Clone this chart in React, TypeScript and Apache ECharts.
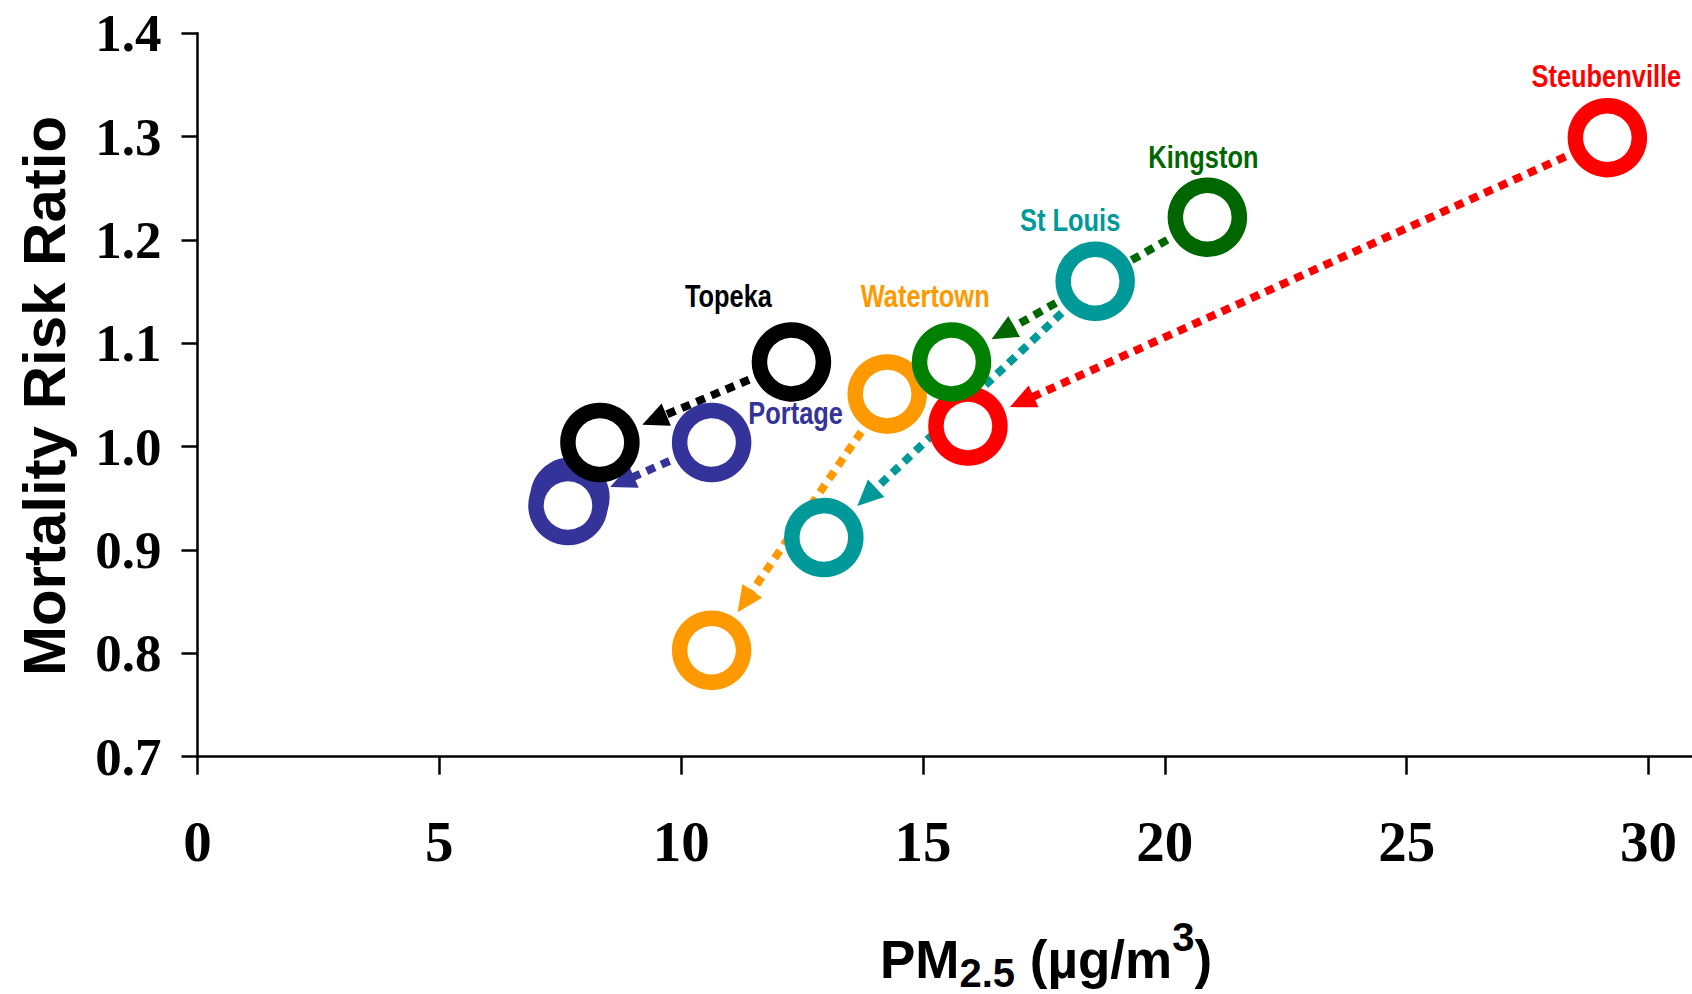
import React, { useEffect, useRef } from "react";
import * as echarts from "echarts";

// ---- data ----
const cities = ["Topeka", "Portage", "Watertown", "St Louis", "Kingston", "Steubenville"];
// first (earlier) PM2.5 / risk ratio
const pmStart = [12.28, 10.63, 14.26, 18.56, 20.88, 29.15];
const rrStart = [1.082, 1.004, 1.051, 1.16, 1.222, 1.299];
// later PM2.5 / risk ratio
const pmEnd = [8.32, 7.66, 10.63, 12.95, 15.59, 15.93];
const rrEnd = [1.004, 0.943, 0.803, 0.912, 1.082, 1.02];
// partly hidden extra Portage marker
const portageExtraPm = [7.7];
const portageExtraRr = [0.951];

const xTicks = [0, 5, 10, 15, 20, 25, 30];
const yTicks = [0.7, 0.8, 0.9, 1.0, 1.1, 1.2, 1.3, 1.4];

// ---- styles ----
const startColors = ["#000000", "#333399", "#FF9900", "#009999", "#006600", "#FF0000"];
const endColors = ["#000000", "#333399", "#FF9900", "#009999", "#008000", "#FF0000"];
const arrowColors = ["#000000", "#333399", "#FF9900", "#009999", "#006600", "#FF0000"];
const labelColors = ["#000000", "#333399", "#FF9900", "#009999", "#006600", "#FF0000"];
const labelOffsets = [
  [-63, -66],
  [84, -29],
  [38, -98],
  [-25, -61],
  [-4, -60],
  [-1, -62],
];
const drawOrder = [1, 0, 2, 3, 5, 4];
const SANS = "'Liberation Sans', Arial, sans-serif";
const SERIF = "'Liberation Serif', 'Times New Roman', serif";

export default function App() {
  const ref = useRef<HTMLDivElement>(null);

  useEffect(() => {
    if (!ref.current) return;
    const chart = echarts.init(ref.current, null, { renderer: "svg" });

    const GAP = 46;
    const HEAD = 26;
    const HALF = 12;

    const arrowSeries: any = {
      type: "custom",
      coordinateSystem: "cartesian2d",
      z: 1,
      silent: true,
      clip: false,
      data: cities.map((_, i) => [pmStart[i], rrStart[i], pmEnd[i], rrEnd[i], i]),
      encode: { x: [0, 2], y: [1, 3] },
      renderItem: (_params: any, api: any) => {
        const i = api.value(4);
        const p1 = api.coord([api.value(0), api.value(1)]);
        const p2 = api.coord([api.value(2), api.value(3)]);
        const dx = p2[0] - p1[0];
        const dy = p2[1] - p1[1];
        const len = Math.hypot(dx, dy);
        const ux = dx / len;
        const uy = dy / len;
        const tip = [p2[0] - ux * GAP, p2[1] - uy * GAP];
        const base = [tip[0] - ux * HEAD, tip[1] - uy * HEAD];
        const nx = -uy;
        const ny = ux;
        const c = arrowColors[i];
        return {
          type: "group",
          children: [
            {
              type: "line",
              shape: {
                x1: p1[0] + ux * 30,
                y1: p1[1] + uy * 30,
                x2: base[0] + ux * 2,
                y2: base[1] + uy * 2,
              },
              style: { stroke: c, lineWidth: 8, lineDash: [9, 7], lineCap: "butt" },
            },
            {
              type: "polygon",
              shape: {
                points: [
                  tip,
                  [base[0] + nx * HALF, base[1] + ny * HALF],
                  [base[0] - nx * HALF, base[1] - ny * HALF],
                ],
              },
              style: { fill: c },
            },
          ],
        };
      },
    };

    const labelSeries: any = {
      type: "custom",
      coordinateSystem: "cartesian2d",
      z: 3,
      silent: true,
      clip: false,
      data: cities.map((_, i) => [pmStart[i], rrStart[i], i]),
      encode: { x: 0, y: 1 },
      renderItem: (_params: any, api: any) => {
        const i = api.value(2);
        const p = api.coord([api.value(0), api.value(1)]);
        return {
          type: "text",
          x: p[0] + labelOffsets[i][0],
          y: p[1] + labelOffsets[i][1],
          scaleX: 0.82,
          style: {
            text: cities[i],
            fill: labelColors[i],
            fontSize: 31,
            fontWeight: "bold",
            fontFamily: SANS,
            align: "center",
            verticalAlign: "middle",
          },
        };
      },
    };

    const markerSeries = drawOrder.map((i) => {
      const data: any[] = [
        { value: [pmStart[i], rrStart[i]], itemStyle: { borderColor: startColors[i] } },
      ];
      if (i === 1) {
        portageExtraPm.forEach((x, k) => {
          data.push({ value: [x, portageExtraRr[k]], itemStyle: { borderColor: endColors[i] } });
        });
      }
      data.push({ value: [pmEnd[i], rrEnd[i]], itemStyle: { borderColor: endColors[i] } });
      return {
        type: "scatter",
        name: cities[i],
        z: 2,
        symbol: "circle",
        symbolSize: 64,
        itemStyle: { color: "#ffffff", borderWidth: 15.5, opacity: 1 },
        label: { show: false },
        emphasis: { disabled: true },
        data,
      };
    });

    chart.setOption({
      animation: false,
      backgroundColor: "#ffffff",
      grid: { left: 197.5, top: 33.3, right: 0, bottom: 237.3, containLabel: false },
      xAxis: {
        type: "value",
        min: 0,
        max: 30.9,
        interval: 5,
        axisLine: { show: true, onZero: false, lineStyle: { color: "#000", width: 2.5 } },
        axisTick: { show: true, length: 18, lineStyle: { color: "#000", width: 2.5 }, customValues: xTicks },
        axisLabel: {
          customValues: xTicks,
          margin: 56,
          fontFamily: SERIF,
          fontWeight: "bold",
          fontSize: 57,
          color: "#000",
        },
        splitLine: { show: false },
      },
      yAxis: {
        type: "value",
        min: 0.7,
        max: 1.4,
        interval: 0.1,
        axisLine: { show: true, onZero: false, lineStyle: { color: "#000", width: 2.5 } },
        axisTick: { show: true, length: 16, lineStyle: { color: "#000", width: 2.5 }, customValues: yTicks },
        axisLabel: {
          customValues: yTicks,
          margin: 36,
          fontFamily: SERIF,
          fontWeight: "bold",
          fontSize: 53,
          color: "#000",
          formatter: (v: number) => v.toFixed(1),
        },
        splitLine: { show: false },
      },
      graphic: [
        {
          type: "text",
          x: 44,
          y: 396,
          rotation: Math.PI / 2,
          style: {
            text: "Mortality Risk Ratio",
            fontFamily: SANS,
            fontWeight: "bold",
            fontSize: 60,
            fill: "#000",
            align: "center",
            verticalAlign: "middle",
          },
        },
        {
          type: "text",
          x: 1046,
          y: 959,
          style: {
            text: "PM{sub|2.5} (µg/m{sup|3})",
            fontFamily: SANS,
            fontWeight: "bold",
            fontSize: 53,
            fill: "#000",
            align: "center",
            verticalAlign: "middle",
            rich: {
              sub: {
                fontFamily: SANS,
                fontWeight: "bold",
                fontSize: 40,
                fill: "#000",
                padding: [27, 0, 0, 0],
              },
              sup: {
                fontFamily: SANS,
                fontWeight: "bold",
                fontSize: 40,
                fill: "#000",
                padding: [0, 0, 44, 0],
              },
            },
          },
        },
      ],
      series: [arrowSeries, ...markerSeries, labelSeries],
    });

    return () => chart.dispose();
  }, []);

  return (
    <div
      ref={ref}
      style={{ position: "fixed", left: 0, top: 0, width: 1692, height: 994, background: "#fff" }}
    />
  );
}
